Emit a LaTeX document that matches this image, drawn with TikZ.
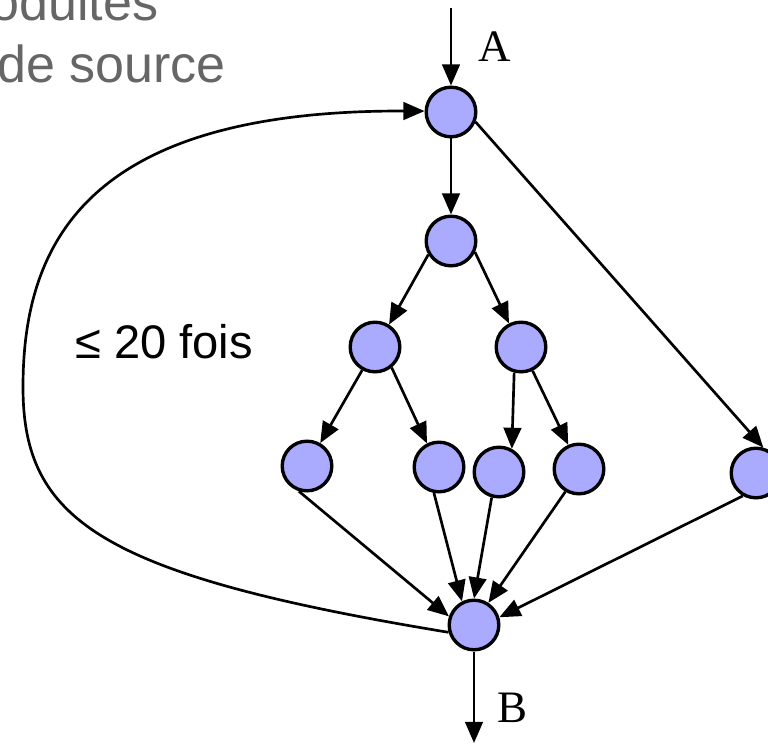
\documentclass[tikz,border=0pt]{standalone}
\usepackage{fontspec}
\setmainfont{Liberation Serif}
\setsansfont{Liberation Sans}
\usetikzlibrary{arrows.meta}
\definecolor{nodeblue}{RGB}{170,170,255}
\definecolor{textgray}{RGB}{102,102,102}

\begin{document}
\begin{tikzpicture}[x=0.025cm, y=-0.025cm,
  vertex/.style={circle, draw, line width=2.4pt, fill=nodeblue, minimum size=1.24cm, inner sep=0pt},
  link/.style={line width=1.9pt, -{Triangle[length=15pt, width=12.5pt]}},
  every node/.style={inner sep=0pt}]
  \clip (0,0) rectangle (768,743);

  \node[font=\sffamily\fontsize{37}{44}\selectfont, text=textgray, anchor=base west] (tA) at (-10,20) {oduites};
  \node[font=\sffamily\fontsize{37}{44}\selectfont, text=textgray, anchor=base west] (tB) at (-3,82) {de source};

  \node[vertex] (top) at (451,112) {};
  \node[vertex] (mid) at (451,241) {};
  \node[vertex] (l) at (375,347) {};
  \node[vertex] (r) at (521,347) {};
  \node[vertex] (ll) at (307,466) {};
  \node[vertex] (lr) at (439,467) {};
  \node[vertex] (rl) at (499,472) {};
  \node[vertex] (rr) at (579,469) {};
  \node[vertex] (side) at (756,473) {};
  \node[vertex] (bot) at (474,625) {};

  \coordinate (in) at (451,8);
  \coordinate (out) at (474,743);

  \draw[link] (in) -- (top);
  \draw[link] (bot) -- (out);
  \node[font=\fontsize{32}{38}\selectfont] (lblA) at (495,47) {A};
  \node[font=\fontsize{32}{38}\selectfont] (lblB) at (512,708) {B};

  \draw[link] (top) -- (mid);
  \draw[link] (top.-22) -- (side.74);
  \draw[link] (mid.-149) -- (l.58);
  \draw[link] (mid.-25) -- (r.117);
  \draw[link] (l.-119) -- (ll.60);
  \draw[link] (l.-51) -- (lr.117);
  \draw[link] (r.-105) -- (rl.61);
  \draw[link] (r.-64) -- (rr.114);

  \draw[link] (ll.-108) -- (bot.161);
  \draw[link] (lr.-101) -- (bot.117);
  \draw[link] (rl.-106) -- (bot.90);
  \draw[link] (rr.-121) -- (bot.57);
  \draw[link] (side.-120) -- (bot.17);

  \draw[link] (bot.196) .. controls (100,575) and (23,520) .. (23,387)
    .. controls (23,240) and (90,110) .. (top.178);
  \node[font=\sffamily\fontsize{33.5}{40}\selectfont, anchor=base west] (count) at (75,358) {≤ 20 fois};
\end{tikzpicture}
\end{document}
